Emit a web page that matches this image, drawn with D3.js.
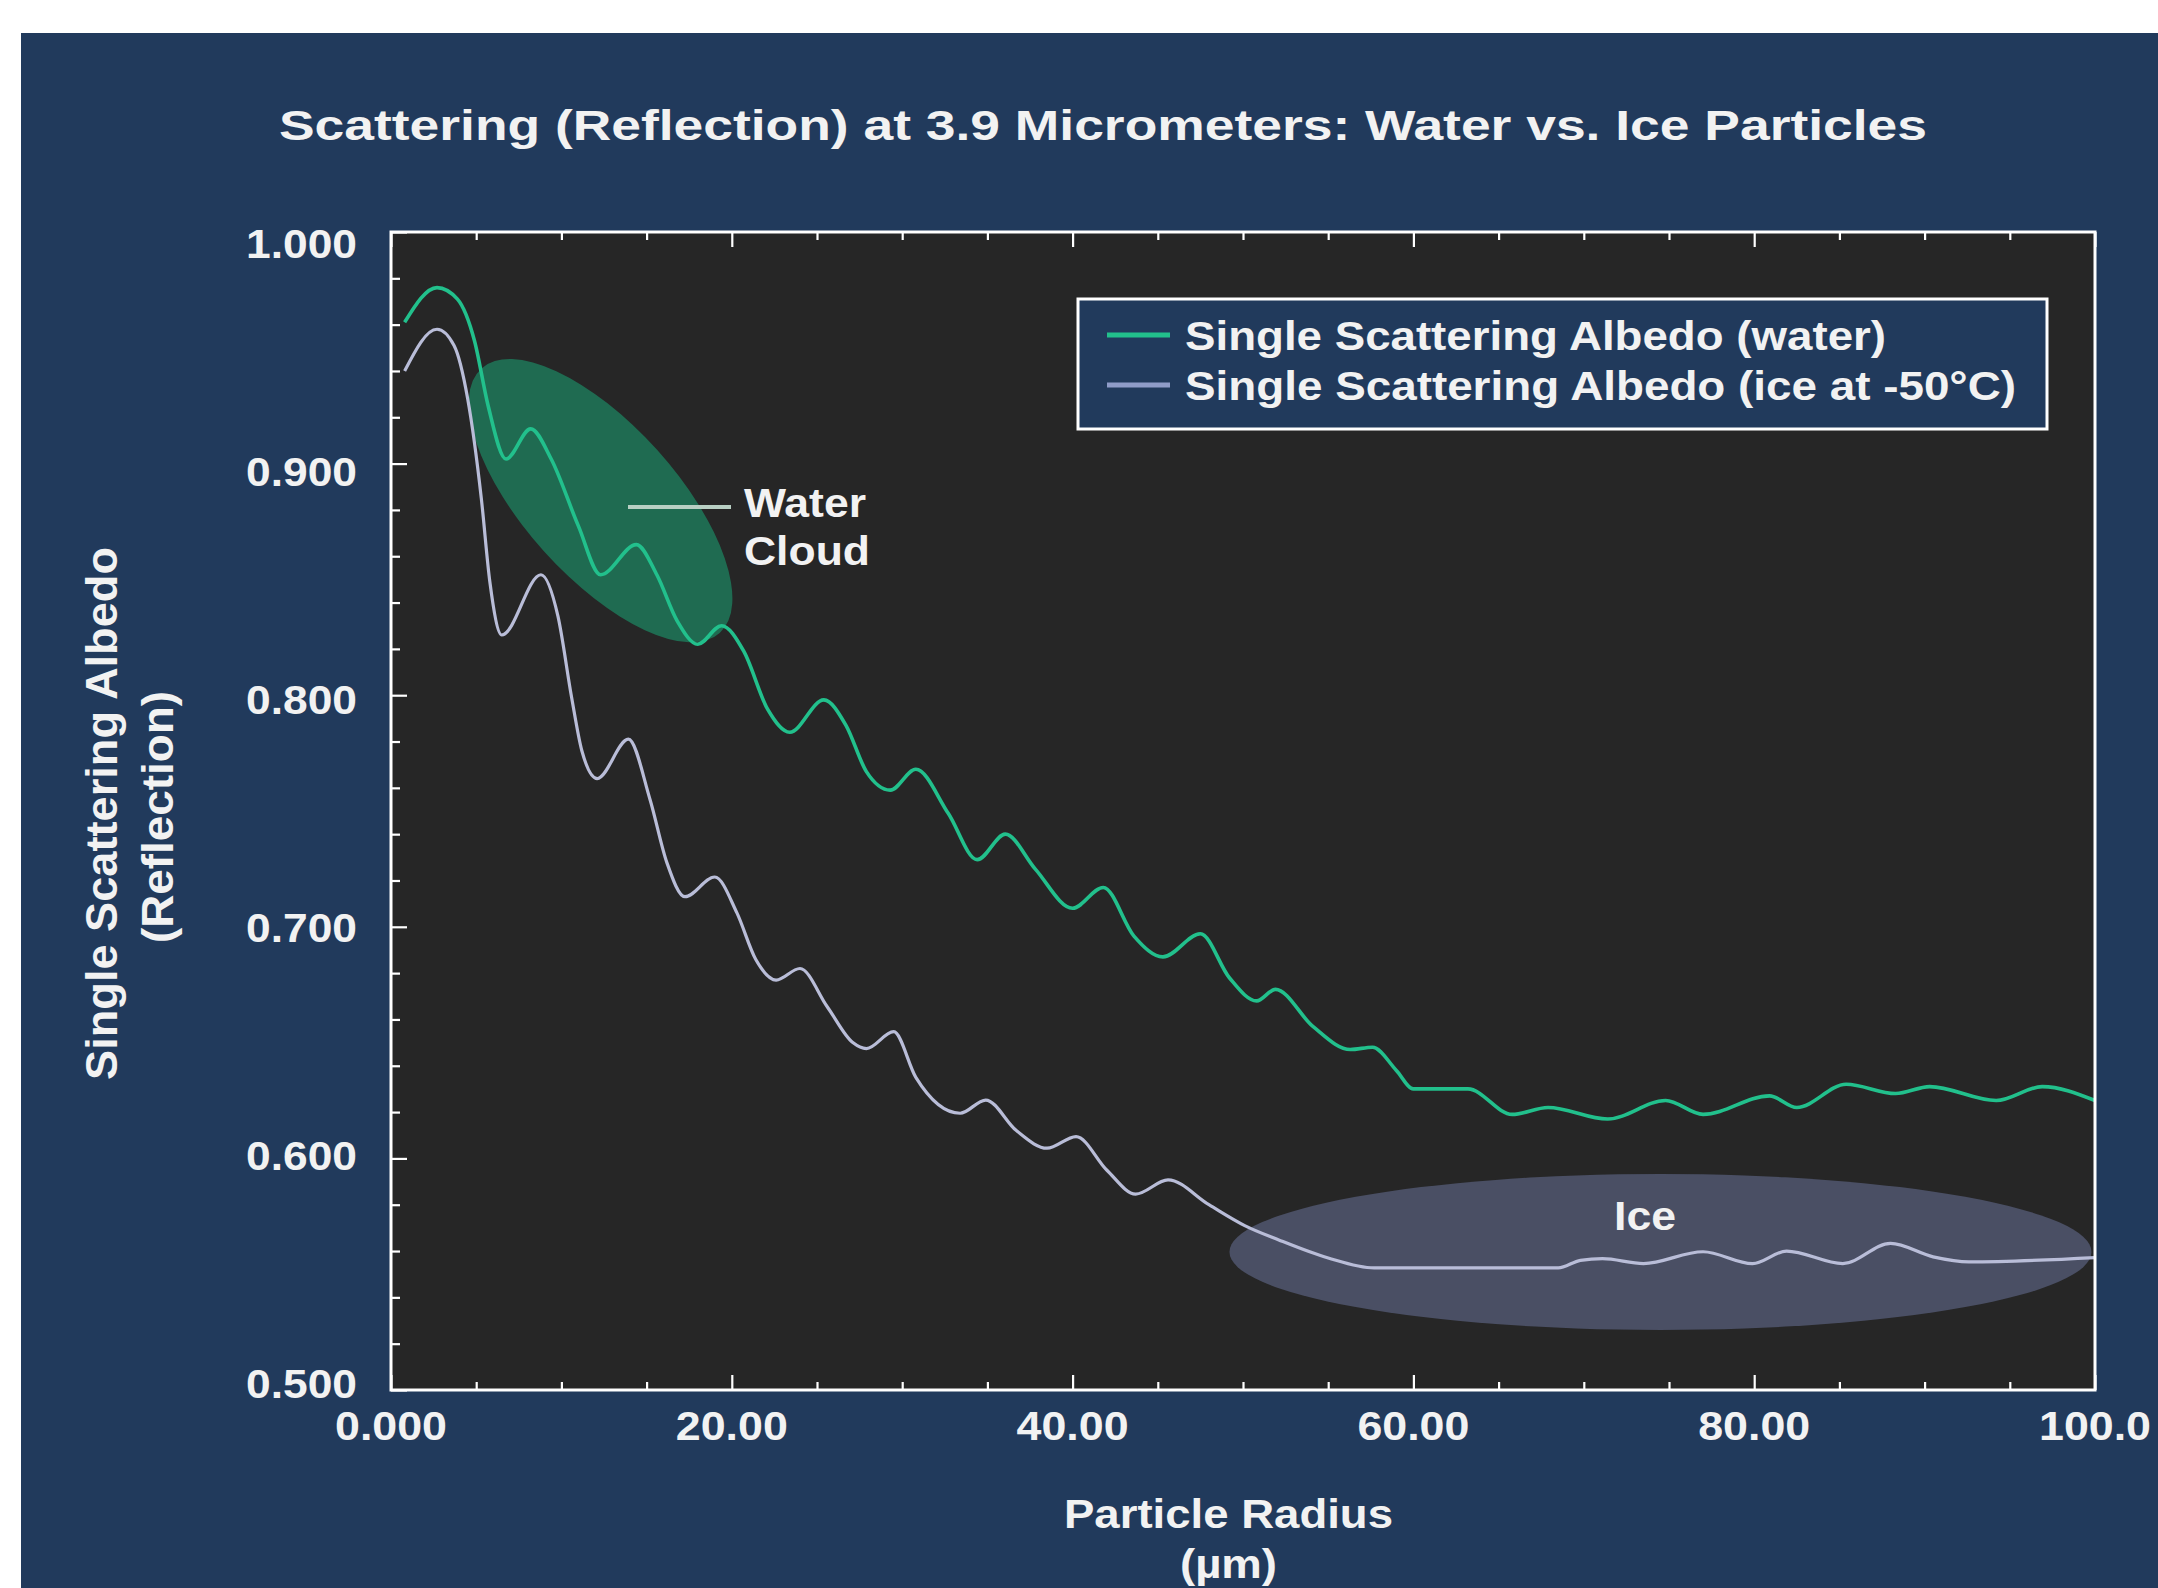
<!DOCTYPE html>
<html>
<head>
<meta charset="utf-8">
<script src="https://cdn.jsdelivr.net/npm/d3@7"></script>
<style>
  html, body { margin: 0; padding: 0; background: #ffffff; }
  svg { display: block; }
  text { font-family: "Liberation Sans", Arial, Helvetica, sans-serif; font-weight: bold; fill: #f2f2f2; }
</style>
</head>
<body>
<script>
// ---------------- data ----------------
const waterRadius = [0.8, 2.7, 3.9, 4.9, 5.7, 6.75, 8.2, 9.4, 11.0, 12.3, 14.4, 15.6, 16.8, 18.0, 19.4, 20.7, 22.1, 23.4, 25.4, 26.7, 27.9, 29.3, 30.8, 32.7, 34.4, 36.05, 37.8, 40.0, 41.8, 43.6, 45.3, 47.5, 49.2, 50.8, 51.9, 54.1, 56.3, 57.6, 59.0, 60.0, 63.2, 65.8, 67.9, 71.4, 74.8, 77.0, 80.9, 82.5, 85.4, 88.3, 90.3, 94.2, 96.9, 100.0];
const waterAlbedo = [0.961, 0.976, 0.971, 0.953, 0.925, 0.902, 0.915, 0.902, 0.873, 0.852, 0.865, 0.852, 0.832, 0.822, 0.830, 0.819, 0.794, 0.784, 0.798, 0.787, 0.767, 0.759, 0.768, 0.749, 0.729, 0.740, 0.725, 0.708, 0.717, 0.696, 0.687, 0.697, 0.678, 0.668, 0.673, 0.657, 0.647, 0.648, 0.638, 0.630, 0.630, 0.619, 0.622, 0.617, 0.625, 0.619, 0.627, 0.622, 0.632, 0.628, 0.631, 0.625, 0.631, 0.625];

const iceRadius = [0.8, 2.7, 3.7, 4.5, 5.3, 5.8, 6.5, 8.8, 9.8, 10.6, 11.2, 12.1, 13.93, 15.2, 16.2, 17.25, 19.0, 20.3, 21.4, 22.6, 24.0, 25.6, 27.1, 27.9, 29.5, 30.8, 33.4, 34.9, 36.7, 38.5, 40.2, 42.0, 43.7, 45.6, 48.0, 50.1, 52.1, 55.0, 57.7, 68.5, 69.8, 71.1, 73.5, 77.0, 79.9, 81.9, 85.2, 88.0, 90.5, 92.6, 100.0];
const iceAlbedo = [0.940, 0.958, 0.951, 0.928, 0.885, 0.849, 0.826, 0.852, 0.834, 0.799, 0.776, 0.764, 0.781, 0.755, 0.7275, 0.713, 0.7215, 0.706, 0.686, 0.677, 0.682, 0.6655, 0.650, 0.6474, 0.6547, 0.635, 0.6195, 0.6252, 0.612, 0.6044, 0.6094, 0.595, 0.5846, 0.5907, 0.580, 0.571, 0.5648, 0.557, 0.5527, 0.5527, 0.556, 0.5567, 0.5546, 0.5597, 0.5546, 0.5600, 0.5546, 0.5633, 0.5575, 0.5553, 0.5572];

const xTickValues = [0, 20, 40, 60, 80, 100];
const xTickLabels = ["0.000", "20.00", "40.00", "60.00", "80.00", "100.0"];
const xMinorTicks = [5, 10, 15, 25, 30, 35, 45, 50, 55, 65, 70, 75, 85, 90, 95];
const yTickValues = [0.5, 0.6, 0.7, 0.8, 0.9, 1.0];
const yTickLabels = ["0.500", "0.600", "0.700", "0.800", "0.900", "1.000"];
const yMinorTicks = [0.52, 0.54, 0.56, 0.58, 0.62, 0.64, 0.66, 0.68, 0.72, 0.74, 0.76, 0.78, 0.82, 0.84, 0.86, 0.88, 0.92, 0.94, 0.96, 0.98];

const seriesNames = ["Single Scattering Albedo (water)", "Single Scattering Albedo (ice at -50°C)"];
const titleText = "Scattering (Reflection) at 3.9 Micrometers: Water vs. Ice Particles";

// ---------------- layout ----------------
const W = 2158, H = 1588;
const L = 391, R = 2095, T = 232, B = 1390;
const navy = "#213a5c";
const waterColor = "#22c08c";
const iceColor = "#b9bdd8";

const svg = d3.select("body").append("svg").attr("width", W).attr("height", H);
svg.append("rect").attr("width", W).attr("height", H).attr("fill", "#ffffff");
svg.append("rect").attr("x", 21).attr("y", 33).attr("width", W - 21).attr("height", H - 33).attr("fill", navy);

const x = d3.scaleLinear().domain([0, 100]).range([L, R]);
const y = d3.scaleLinear().domain([0.5, 1]).range([B, T]);
const yLabel = d3.scaleLinear().domain([0.5, 1]).range([1384, 244]);

function fit(sel, w) { sel.attr("textLength", w).attr("lengthAdjust", "spacingAndGlyphs"); return sel; }

// plot background
svg.append("rect").attr("x", L).attr("y", T).attr("width", R - L).attr("height", B - T).attr("fill", "#262626");

svg.append("clipPath").attr("id", "plotclip").append("rect")
  .attr("x", L).attr("y", T).attr("width", R - L).attr("height", B - T);
const plot = svg.append("g").attr("clip-path", "url(#plotclip)");

// highlight ellipses
const gcx = x(12.3), gcy = y(0.884);
plot.append("ellipse")
  .attr("cx", gcx).attr("cy", gcy)
  .attr("rx", 178).attr("ry", 76)
  .attr("transform", `rotate(48 ${gcx} ${gcy})`)
  .attr("fill", "#1f6b51");
plot.append("ellipse")
  .attr("cx", x(74.5)).attr("cy", y(0.5596))
  .attr("rx", 431).attr("ry", 78)
  .attr("fill", "#4a4f64");

// lines
const line = d3.line().x(d => x(d[0])).y(d => y(d[1])).curve(d3.curveMonotoneX);
const waterData = waterRadius.map((r, i) => [r, waterAlbedo[i]]);
const iceData = iceRadius.map((r, i) => [r, iceAlbedo[i]]);
plot.append("path").datum(iceData).attr("d", line)
  .attr("fill", "none").attr("stroke", iceColor).attr("stroke-width", 3.2).attr("stroke-linejoin", "round");
plot.append("path").datum(waterData).attr("d", line)
  .attr("fill", "none").attr("stroke", waterColor).attr("stroke-width", 3.6).attr("stroke-linejoin", "round");

// ticks
function tickGroup(axis) {
  const g = svg.append("g").call(axis);
  g.select(".domain").remove();
  g.selectAll(".tick line").attr("stroke", "#ffffff").attr("stroke-width", 2.2);
  g.selectAll(".tick text").remove();
  return g;
}
tickGroup(d3.axisBottom(x).tickValues(xTickValues).tickSize(-15).tickFormat("")).attr("transform", `translate(0,${B})`);
tickGroup(d3.axisBottom(x).tickValues(xMinorTicks).tickSize(-8).tickFormat("")).attr("transform", `translate(0,${B})`);
tickGroup(d3.axisTop(x).tickValues(xTickValues).tickSize(-15).tickFormat("")).attr("transform", `translate(0,${T})`);
tickGroup(d3.axisTop(x).tickValues(xMinorTicks).tickSize(-8).tickFormat("")).attr("transform", `translate(0,${T})`);
tickGroup(d3.axisLeft(y).tickValues(yTickValues).tickSize(-16).tickFormat("")).attr("transform", `translate(${L},0)`);
tickGroup(d3.axisLeft(y).tickValues(yMinorTicks).tickSize(-9).tickFormat("")).attr("transform", `translate(${L},0)`);

// frame
svg.append("rect").attr("x", L).attr("y", T).attr("width", R - L).attr("height", B - T)
  .attr("fill", "none").attr("stroke", "#ffffff").attr("stroke-width", 3);

// tick labels
svg.append("g").selectAll("text").data(xTickValues).join("text")
  .attr("x", d => x(d)).attr("y", 1440).attr("text-anchor", "middle")
  .attr("font-size", 40).text((d, i) => xTickLabels[i])
  .call(fit, 112);
svg.append("g").selectAll("text").data(yTickValues).join("text")
  .attr("x", 357).attr("y", d => yLabel(d) + 14).attr("text-anchor", "end")
  .attr("font-size", 40).text((d, i) => yTickLabels[i])
  .call(fit, 111);

// title
svg.append("text").attr("x", 279).attr("y", 140).attr("font-size", 42).text(titleText).call(fit, 1648);

// axis titles
svg.append("text").attr("x", 1064).attr("y", 1528).attr("font-size", 40).text("Particle Radius").call(fit, 329);
svg.append("text").attr("x", 1180).attr("y", 1578).attr("font-size", 40).text("(µm)").call(fit, 97);
svg.append("text").attr("transform", "translate(117,1080) rotate(-90)").attr("font-size", 45)
  .text("Single Scattering Albedo").call(fit, 533);
svg.append("text").attr("transform", "translate(173,943) rotate(-90)").attr("font-size", 45)
  .text("(Reflection)").call(fit, 252);

// legend
const lg = svg.append("g");
lg.append("rect").attr("x", 1078).attr("y", 299).attr("width", 969).attr("height", 130)
  .attr("fill", navy).attr("stroke", "#ffffff").attr("stroke-width", 3);
const legendColors = [waterColor, "#8f9cc8"];
seriesNames.forEach((name, i) => {
  const cy = 335 + i * 50;
  lg.append("line").attr("x1", 1107).attr("x2", 1170).attr("y1", cy).attr("y2", cy)
    .attr("stroke", legendColors[i]).attr("stroke-width", 5);
  lg.append("text").attr("x", 1185).attr("y", 350 + i * 50).attr("font-size", 41)
    .text(name).call(fit, i === 0 ? 701 : 831);
});

// annotations
svg.append("line").attr("x1", 628).attr("x2", 731).attr("y1", 507).attr("y2", 507)
  .attr("stroke", "#b8cfc3").attr("stroke-width", 4);
svg.append("text").attr("x", 744).attr("y", 517).attr("font-size", 41).text("Water").call(fit, 122);
svg.append("text").attr("x", 744).attr("y", 565).attr("font-size", 41).text("Cloud").call(fit, 126);
svg.append("text").attr("x", 1645).attr("y", 1230).attr("text-anchor", "middle").attr("font-size", 41).text("Ice").call(fit, 62);
</script>
</body>
</html>
